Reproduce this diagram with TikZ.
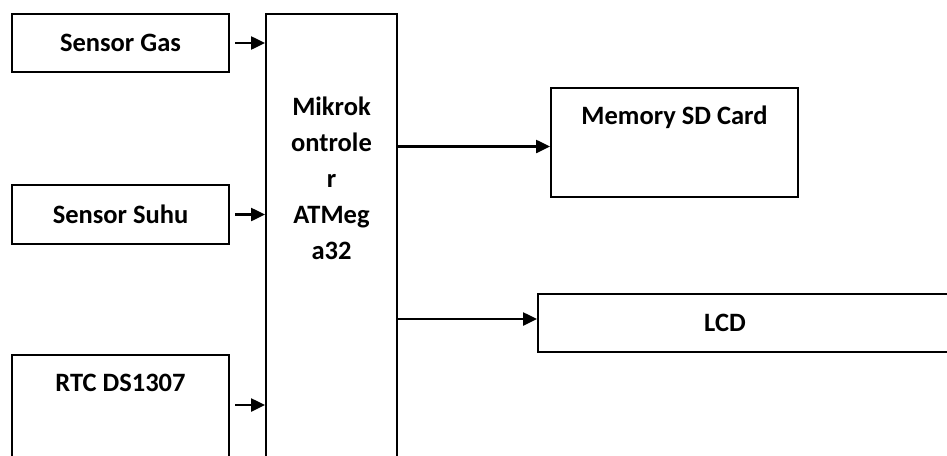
\documentclass[tikz,border=0pt]{standalone}
\usepackage{fontspec}
\setmainfont{Carlito}
\usetikzlibrary{arrows.meta,positioning,calc}

\begin{document}
\begin{tikzpicture}[
  x=1pt,y=-1pt,
  font=\fontsize{26.5}{36}\selectfont\bfseries,
  box/.style={draw,line width=2pt,inner sep=0pt,anchor=north west},
  lbl/.style={align=center,inner sep=0pt},
  arrow/.style={-{Triangle[length=14pt,width=13pt]},line width=2.5pt}
]
\useasboundingbox (0,0) rectangle (947,455);
\clip (0,0) rectangle (947,455);
% inputs
\node[box,minimum width=217,minimum height=58] (gas) at (11,13) {Sensor Gas};
\node[box,minimum width=217,minimum height=59] (suhu) at (11,184) {Sensor Suhu};
\node[box,minimum width=217,minimum height=130] (rtc) at (11,354) {};
\node[lbl] (rtctext) at ($(rtc.north)+(0,29)$) {RTC DS1307};
% controller
\node[box,minimum width=131,minimum height=470] (mcu) at (265,13) {};
\node[lbl] (mcutext) at ($(mcu.north)+(0,165)$) {Mikrok\\ontrole\\r\\ATMeg\\a32};
% outputs
\node[box,minimum width=247,minimum height=109] (mem) at (550,87) {};
\node[lbl] (memtext) at ($(mem.north)+(0,30)$) {Memory SD Card};
\node[box,minimum width=430,minimum height=58] (lcd) at (537,293) {};
\node[lbl] (lcdtext) at ($(lcd.west)+(188,0)$) {LCD};
% connections
\coordinate (rtcpin) at ($(rtc.north east)+(0,51)$);
\draw[arrow,shorten <=5pt] (gas.east) -- (gas.east -| mcu.west);
\draw[arrow,shorten <=5pt] (suhu.east) -- (suhu.east -| mcu.west);
\draw[arrow,shorten <=5pt] (rtcpin) -- (rtcpin -| mcu.west);
\coordinate (mempin) at ($(mem.west)+(0,4)$);
\coordinate (lcdpin) at ($(lcd.west)+(0,-4)$);
\draw[arrow] (mempin -| mcu.east) -- (mempin);
\draw[arrow] (lcdpin -| mcu.east) -- (lcdpin);
\end{tikzpicture}
\end{document}
